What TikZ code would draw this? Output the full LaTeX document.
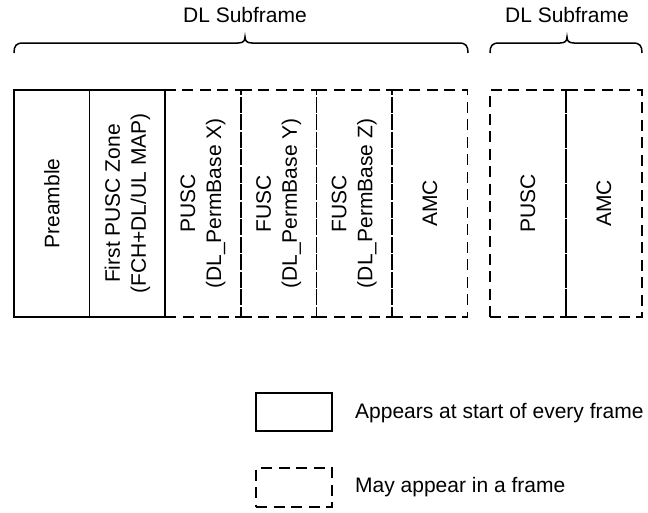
\documentclass[tikz,border=0pt]{standalone}
\usepackage{fontspec}
\setmainfont{Liberation Sans}
\begin{document}
\begin{tikzpicture}[x=1pt,y=1pt]
\tikzset{
  box/.style={draw, line width=1.5pt, minimum width=75.6pt, minimum height=227pt, inner sep=0pt, outer sep=0pt},
  solidbox/.style={box},
  dashbox/.style={box, dash pattern=on 11pt off 6.5pt},
  lbl/.style={rotate=90, align=center, inner sep=0pt, font=\fontsize{21}{26}\selectfont},
  txt/.style={inner sep=0pt, font=\fontsize{21}{26}\selectfont},
  brc/.style={line width=1.5pt},
}
\useasboundingbox (0,0) rectangle (648,-512);

% boxes
\node[dashbox] (b3) at (203,-203.5) {};
\node[dashbox] (b4) at (278.6,-203.5) {};
\node[dashbox] (b5) at (354.2,-203.5) {};
\node[dashbox] (b6) at (429.8,-203.5) {};
\node[dashbox, minimum width=76pt] (c1) at (528,-203.5) {};
\node[dashbox, minimum width=76pt] (c2) at (604,-203.5) {};
\node[solidbox] (b1) at (51.8,-203.5) {};
\node[solidbox] (b2) at (127.4,-203.5) {};

% labels
\node[lbl] (t1) at (b1.center) {Preamble};
\node[lbl] (t2) at (b2.center) {First PUSC Zone\\(FCH+DL/UL MAP)};
\node[lbl] (t3) at (b3.center) {PUSC\\(DL\_PermBase X)};
\node[lbl] (t4) at (b4.center) {FUSC\\(DL\_PermBase Y)};
\node[lbl] (t5) at (b5.center) {FUSC\\(DL\_PermBase Z)};
\node[lbl] (t6) at (b6.center) {AMC};
\node[lbl] (u1) at (c1.center) {PUSC};
\node[lbl] (u2) at (c2.center) {AMC};

% braces
\draw[brc] (14,-53) .. controls (14,-46) and (16,-43) .. (23,-43) -- (238,-43)
  .. controls (243,-43) and (245,-41) .. (245,-37)
  .. controls (245,-41) and (247,-43) .. (252,-43) -- (459,-43)
  .. controls (466,-43) and (468,-46) .. (468,-53);
\draw[brc] (490,-53) .. controls (490,-46) and (492,-43) .. (499,-43) -- (560,-43)
  .. controls (565,-43) and (567,-41) .. (567,-37)
  .. controls (567,-41) and (569,-43) .. (574,-43) -- (633,-43)
  .. controls (640,-43) and (642,-46) .. (642,-53);
\node[txt, anchor=base] (h1) at (245,-22) {DL Subframe};
\node[txt, anchor=base] (h2) at (567,-22) {DL Subframe};

% legend
\node[solidbox, minimum width=76pt, minimum height=38pt] (l1) at (294,-412) {};
\node[txt, anchor=base west] (l1t) at (355,-418) {Appears at start of every frame};
\node[dashbox, minimum width=76pt, minimum height=39pt] (l2) at (294,-487.5) {};
\node[txt, anchor=base west] (l2t) at (355,-492) {May appear in a frame};
\end{tikzpicture}
\end{document}
